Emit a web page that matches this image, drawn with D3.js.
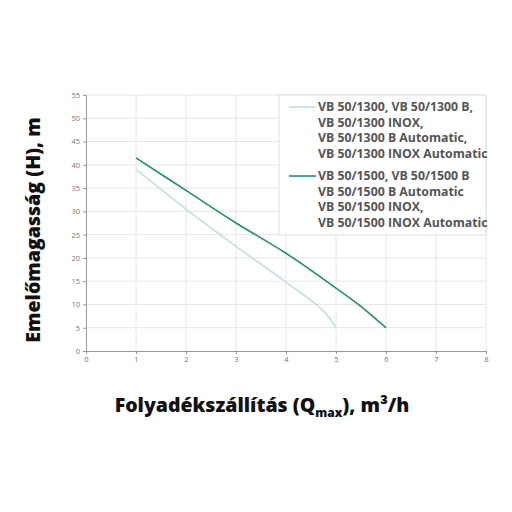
<!DOCTYPE html>
<html><head><meta charset="utf-8">
<script src="https://cdn.jsdelivr.net/npm/d3@7"></script>
<style>body{margin:0;background:#fff}</style>
</head><body>
<svg id="chart" width="512" height="512"></svg>
<script>
const xTicks = [0,1,2,3,4,5,6,7,8];
const yTicks = [0,5,10,15,20,25,30,35,40,45,50,55];
const q1300 = [1,2,3,4,4.6,4.78,5];
const h1300 = [39,30.5,22.5,14.8,10,8.3,5];
const q1500 = [1,2,3,4,5,5.6,6];
const h1500 = [41.5,34.5,27.5,21,13.5,8.7,5];
const legend1300 = ["VB 50/1300, VB 50/1300 B,","VB 50/1300 INOX,","VB 50/1300 B Automatic,","VB 50/1300 INOX Automatic"];
const legend1500 = ["VB 50/1500, VB 50/1500 B","VB 50/1500 B Automatic","VB 50/1500 INOX,","VB 50/1500 INOX Automatic"];

const svg = d3.select("#chart");
const font = "'Open Sans', sans-serif";
const x = d3.scaleLinear().domain([0,8]).range([86,486]);
const y = d3.scaleLinear().domain([0,55]).range([351,95]);

// grid
svg.append("g").selectAll("line").data(xTicks.slice(1)).join("line")
  .attr("x1",d=>x(d)).attr("x2",d=>x(d)).attr("y1",y(0)).attr("y2",y(55))
  .attr("stroke","#e6e6e6");
svg.append("g").selectAll("line").data(yTicks.slice(1)).join("line")
  .attr("x1",x(0)).attr("x2",x(8)).attr("y1",d=>y(d)).attr("y2",d=>y(d))
  .attr("stroke","#e6e6e6");

const xa = svg.append("g").attr("transform",`translate(0,${y(0)})`)
  .call(d3.axisBottom(x).tickValues(xTicks).tickSize(3).tickFormat(d3.format("d")));
const ya = svg.append("g").attr("transform",`translate(${x(0)},0)`)
  .call(d3.axisLeft(y).tickValues(yTicks).tickSize(3).tickFormat(d3.format("d")));
[xa,ya].forEach(a=>{
  a.selectAll("path,line").attr("stroke","#999");
  a.selectAll("text").attr("fill","#777").style("font-family",font).style("font-size","7.5px");
});

const line = d3.line().x(d=>x(d[0])).y(d=>y(d[1])).curve(d3.curveMonotoneX);
svg.append("path").datum(d3.zip(q1300,h1300)).attr("d",line)
  .attr("fill","none").attr("stroke","#c5dde6").attr("stroke-width",1.6);
svg.append("path").datum(d3.zip(q1500,h1500)).attr("d",line)
  .attr("fill","none").attr("stroke","#1f8f74").attr("stroke-width",1.6);

// legend
const lg = svg.append("g");
lg.append("rect").attr("x",279).attr("y",95).attr("width",207).attr("height",140)
  .attr("fill","#fff").attr("stroke","#ddd");
const items = [[legend1300,"#c5dde6",111],[legend1500,"#1f8f74",180]];
items.forEach(([lines,c,ty])=>{
  lg.append("line").attr("x1",289).attr("x2",316).attr("y1",ty-4).attr("y2",ty-4)
    .attr("stroke",c).attr("stroke-width",1.6);
  lines.forEach((t,i)=>lg.append("text").attr("x",318).attr("y",ty+i*15.5)
    .attr("fill","#555").style("font-family",font).style("font-weight","bold")
    .style("font-size","12.3px").text(t));
});

svg.append("text").attr("transform","translate(40,230) rotate(-90)")
  .attr("text-anchor","middle").style("font-family",font).style("font-weight","800")
  .style("font-size","19.5px").attr("fill","#111").text("Emelőmagasság (H), m");
const xt = svg.append("text").attr("x",262).attr("y",412).attr("text-anchor","middle")
  .style("font-family",font).style("font-weight","800").style("font-size","19.5px").attr("fill","#111");
xt.append("tspan").text("Folyadékszállítás (Q");
xt.append("tspan").attr("dy",5).style("font-size","12px").text("max");
xt.append("tspan").attr("dy",-5).text("), m³/h");
</script>
</body></html>
